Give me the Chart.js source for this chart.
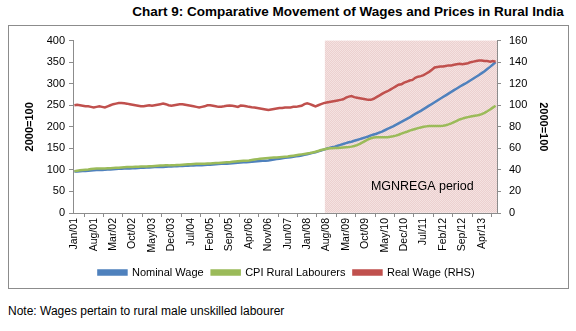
<!DOCTYPE html>
<html>
<head>
<meta charset="utf-8">
<script src="https://cdn.jsdelivr.net/npm/chart.js@4.4.0/dist/chart.umd.min.js"></script>
<style>
  body { margin: 0; width: 576px; height: 331px; background: #fff; font-family: "Liberation Sans", Arial, sans-serif; position: relative; overflow: hidden; }
  #title { position: absolute; left: 60px; width: 576px; top: 4px; text-align: center; font-weight: bold; font-size: 13.5px; color: #000; }
  #box { position: absolute; left: 8px; top: 25px; width: 559px; height: 262px; border: 1px solid #8c8c8c; }
  #note { position: absolute; left: 8px; top: 304px; font-size: 12px; color: #000; }
</style>
</head>
<body>
<div id="title">Chart 9: Comparative Movement of Wages and Prices in Rural India</div>
<div id="box"><canvas id="wageChart"></canvas></div>
<div id="note">Note: Wages pertain to rural male unskilled labourer</div>
<script>
document.addEventListener("DOMContentLoaded", function () {
    const monthNames = ['Jan', 'Feb', 'Mar', 'Apr', 'May', 'Jun', 'Jul', 'Aug', 'Sep', 'Oct', 'Nov', 'Dec'];
    const years = ['01', '02', '03', '04', '05', '06', '07', '08', '09', '10', '11', '12', '13'];
    const lastMonthCount = 9;   // data runs to Sep/13
    const labelStep = 7;        // a tick label every 7 months
    const shadeStart = 91;      // MGNREGA period begins at Aug/08
    const leftTicks = [0, 50, 100, 150, 200, 250, 300, 350, 400];
    const rightTicks = [0, 20, 40, 60, 80, 100, 120, 140, 160];

    // Nominal wage, 2000=100 (left axis)
    const nominalWage = [
        96, 96.5, 97, 97.5, 97.5, 98, 98.5, 99, 99.5, 99.5, 100, 100.5,
        101, 101, 101.5, 102, 102.5, 102.5, 103, 103.5, 103.5, 104, 104, 104.5,
        105, 105, 105.5, 105.5, 106, 106.5, 106.5, 107, 107, 107.5, 108, 108,
        108.5, 108.5, 109, 109, 109.5, 109.5, 110, 110, 110.5, 110.5, 111, 111.5,
        112, 112, 112.5, 113, 113.5, 114, 114, 114.5, 115, 115.5, 116, 116.5,
        117, 117.5, 118, 118.5, 119, 119.5, 120, 120.5, 121, 121.5, 122, 123,
        124, 125, 126, 127, 128, 128.5, 129.5, 130.5, 131.5, 132.5, 133.5, 135,
        136.5, 138, 139.5, 141, 143, 145, 147, 149, 151, 152.5, 154, 156,
        158, 160, 162, 164, 165.5, 167.5, 169.5, 171.5, 173.5, 175.5, 177.5, 180,
        182, 184, 186.5, 189, 192, 195, 198, 201, 204.5, 208, 211.5, 215,
        218.5, 222, 226, 230, 233.5, 237, 241, 245, 249, 253, 257, 261,
        265, 269, 273, 277, 281, 285, 289, 293, 296.5, 300, 304, 308,
        312, 316, 320, 324.5, 329, 334, 339, 344.5, 350
    ];

    // CPI for rural labourers, 2000=100 (left axis)
    const cpiRural = [
        97, 98, 99, 100, 100.5, 101, 102, 102.5, 103, 103, 103, 103.5,
        104, 104, 104.5, 105, 105, 105.5, 106, 106.5, 107, 107, 107.5, 107.5,
        108, 108, 108, 108.5, 108.5, 109, 109.5, 110, 110, 110.5, 110.5, 111,
        111, 111.5, 111.5, 112, 112.5, 113, 113, 113.5, 114, 114, 114.5, 114.5,
        115, 115, 115.5, 116, 116, 116.5, 117, 117.5, 118, 119, 119.5, 120,
        120.5, 121, 121.5, 122, 123, 124, 125, 126, 126.5, 127, 127.5, 128,
        128.5, 129, 129.5, 130, 130.5, 131, 132, 133, 134, 135, 136, 137,
        138, 139, 140.5, 142, 144, 146, 147.5, 149, 150, 150.5, 151, 151,
        151.5, 152, 152.5, 153, 154, 155.5, 157.5, 160.5, 164, 167.5, 171, 173.5,
        175, 176, 176, 175.5, 175.5, 176, 177, 178, 179.5, 181.5, 184, 186.5,
        188.5, 191, 193, 195, 197, 198.5, 200, 201, 202, 202, 202, 202,
        202, 202.5, 203.5, 205.5, 208, 211, 214, 217, 219, 221, 222.5, 224,
        225, 226, 227.5, 229.5, 232.5, 236, 240, 244.5, 249
    ];

    // Real wage (right axis)
    const realWage = [
        100, 100.5, 100, 99.5, 99, 99, 98.5, 98, 98.5, 99, 98.5, 98,
        99, 100, 101, 101.5, 102, 102, 101.8, 101.5, 101, 100.5, 100, 99.5,
        99, 99, 99.5, 100, 99.5, 100, 100.5, 101, 101.5, 101, 100, 99.5,
        100, 100.5, 101, 101, 100.5, 100, 99.5, 99, 98.5, 98, 98.5, 99,
        100, 100, 99.5, 99, 98.5, 98.6, 99, 99.5, 99.7, 99.5, 99, 98.5,
        99.7, 99.5, 99, 98.5, 98.2, 98, 97.5, 97, 96.5, 96, 95.5, 96,
        96.5, 97, 97.5, 97.5, 98, 98, 98, 98.5, 98.5, 99, 99.5, 101,
        101.8, 101, 100, 99, 100, 101, 102, 102.5, 103, 103.5, 104, 104.5,
        105, 105.5, 107, 108, 108.5, 107.5, 107, 106.5, 106, 105.5, 105, 105,
        106, 107.5, 109, 110.5, 112, 113, 114.5, 116, 117.5, 119, 119.5, 121,
        122, 123, 123.5, 125.5, 126.5, 127, 128, 129.5, 131, 133, 135, 135.5,
        136, 136, 136.5, 137, 137, 137.5, 138, 138.5, 138, 138.5, 139, 140,
        140.5, 141, 141.5, 141.5, 141, 141, 140.5, 141, 140.5
    ];

    const labels = [];
    years.forEach((yr, yi) => {
        const count = yi === years.length - 1 ? lastMonthCount : 12;
        for (let m = 0; m < count; m++) labels.push(monthNames[m] + '/' + yr);
    });
    const shade = labels.map((_, i) => i >= shadeStart ? 160 : null);

    const axisColor = '#8c8c8c';
    const fontFamily = '"Liberation Sans", Arial, sans-serif';

    // fine dotted pink fill like the Excel pattern
    const pat = document.createElement('canvas');
    pat.width = 2; pat.height = 2;
    const pctx = pat.getContext('2d');
    pctx.fillStyle = '#f4e2e1';
    pctx.fillRect(0, 0, 2, 2);
    pctx.fillStyle = '#ecd0cf';
    pctx.fillRect(0, 0, 1, 1);
    pctx.fillRect(1, 1, 1, 1);
    const shadeFill = pctx.createPattern(pat, 'repeat');

    // "MGNREGA period" text inside the shaded band
    const bandLabel = {
        id: 'bandLabel',
        afterDatasetsDraw(chart) {
            const ctx = chart.ctx;
            const x = chart.scales.x.getPixelForValue(107);
            const y = chart.scales.y.getPixelForValue(61);
            ctx.save();
            ctx.font = '12.5px ' + fontFamily;
            ctx.fillStyle = '#000';
            ctx.textAlign = 'left';
            ctx.textBaseline = 'middle';
            ctx.fillText('MGNREGA period', x, y);
            ctx.restore();
        }
    };

    const ctx = document.getElementById('wageChart').getContext('2d');
    new Chart(ctx, {
        data: {
            labels: labels,
            datasets: [
                { type: 'line', label: 'Nominal Wage', data: nominalWage, yAxisID: 'y', borderColor: '#4f81bd', backgroundColor: '#4f81bd', borderWidth: 2.5, pointRadius: 0, order: 2 },
                { type: 'line', label: 'CPI Rural Labourers', data: cpiRural, yAxisID: 'y', borderColor: '#9bbb59', backgroundColor: '#9bbb59', borderWidth: 2.5, pointRadius: 0, order: 1 },
                { type: 'line', label: 'Real Wage (RHS)', data: realWage, yAxisID: 'y1', borderColor: '#c0504d', backgroundColor: '#c0504d', borderWidth: 2.5, pointRadius: 0, order: 0 },
                { type: 'bar', label: 'MGNREGA', data: shade, yAxisID: 'y1', backgroundColor: shadeFill, barPercentage: 1.0, categoryPercentage: 1.0, order: 5 }
            ]
        },
        options: {
            responsive: true,
            maintainAspectRatio: false,
            animation: false,
            layout: { padding: { left: 14, right: 18, top: 12, bottom: 0 } },
            plugins: {
                tooltip: { enabled: false },
                legend: {
                    position: 'bottom',
                    labels: {
                        filter: item => item.text !== 'MGNREGA',
                        sort: (a, b) => a.datasetIndex - b.datasetIndex,
                        boxWidth: 28,
                        boxHeight: 4,
                        padding: 8,
                        color: '#000',
                        font: { family: fontFamily, size: 11 }
                    }
                }
            },
            scales: {
                x: {
                    offset: true,
                    grid: { drawOnChartArea: false, drawTicks: true, tickLength: 4, color: axisColor },
                    border: { color: axisColor },
                    afterFit: s => { s.height = 46; },
                    ticks: {
                        autoSkip: false,
                        minRotation: 90,
                        maxRotation: 90,
                        padding: 1,
                        color: '#000',
                        font: { family: fontFamily, size: 10.5 },
                        callback: function (val, i) { return i % labelStep === 0 ? labels[i] : null; }
                    }
                },
                y: {
                    position: 'left',
                    min: 0, max: 400,
                    afterBuildTicks: s => { s.ticks = leftTicks.map(v => ({ value: v })); },
                    afterFit: s => { s.width = 50; },
                    grid: { drawOnChartArea: false, tickLength: 4, color: axisColor },
                    border: { color: axisColor },
                    ticks: { color: '#000', padding: 4, font: { family: fontFamily, size: 11 } },
                    title: { display: true, text: '2000=100', color: '#000', padding: 0, font: { family: fontFamily, size: 11, weight: 'bold' } }
                },
                y1: {
                    position: 'right',
                    min: 0, max: 160,
                    afterBuildTicks: s => { s.ticks = rightTicks.map(v => ({ value: v })); },
                    afterFit: s => { s.width = 53; },
                    grid: { drawOnChartArea: false, tickLength: 4, color: axisColor },
                    border: { color: axisColor },
                    ticks: { color: '#000', padding: 8, font: { family: fontFamily, size: 11 } },
                    title: { display: true, text: '2000=100', color: '#000', padding: 0, font: { family: fontFamily, size: 11, weight: 'bold' } }
                }
            }
        },
        plugins: [bandLabel]
    });
});
</script>
</body>
</html>
